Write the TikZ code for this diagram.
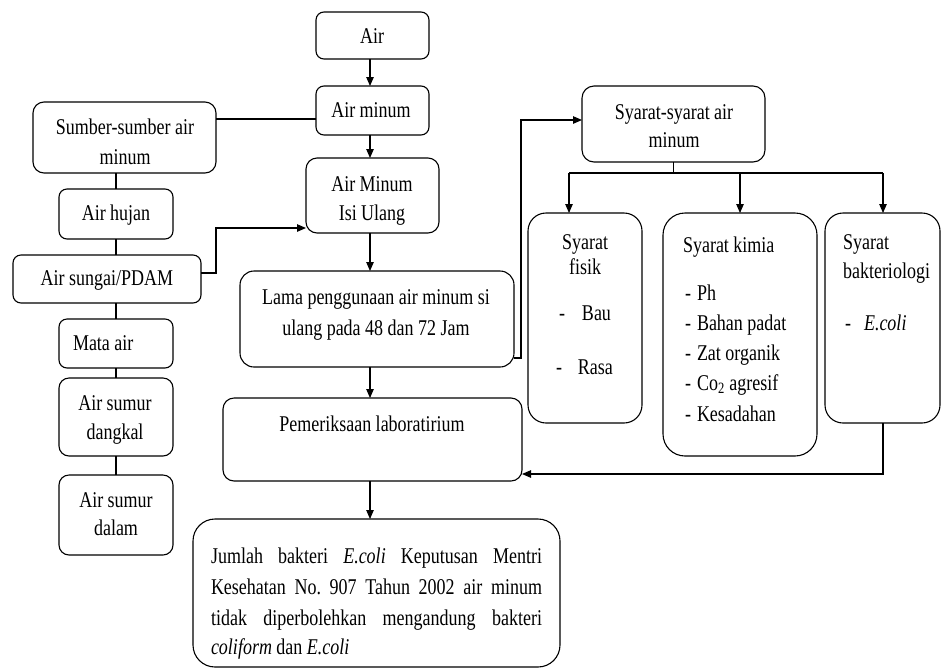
\documentclass[tikz,border=0pt]{standalone}
\usepackage{fontspec}
\setmainfont{Liberation Serif}[FakeStretch=0.8]
\usetikzlibrary{arrows.meta}
\frenchspacing
\tikzset{
  box/.style={draw=black, line width=1.1pt, rounded corners=#1, inner sep=0pt, outer sep=0pt},
  box/.default=8pt,
  txt/.style={inner sep=0pt, outer sep=0pt, font=\fontsize{22.5}{30}\selectfont},
  conn/.style={line width=1.1pt},
  arr/.style={conn, -{Triangle[length=9pt,width=7.5pt]}},
}
\begin{document}
\begin{tikzpicture}[x=1pt,y=-1pt]
\useasboundingbox (0,0) rectangle (941,670);
% boxes
\node[box=8pt, minimum width=113pt, minimum height=47pt] (air) at (372.5,35.5) {};
\node[box=8pt, minimum width=113pt, minimum height=49pt] (airminum) at (372.5,110.5) {};
\node[box=11pt, minimum width=133pt, minimum height=75pt] (isiulang) at (372.5,195.5) {};
\node[box=11pt, minimum width=183pt, minimum height=71pt] (sumber) at (124.5,137.5) {};
\node[box=8pt, minimum width=114pt, minimum height=50pt] (hujan) at (116,214) {};
\node[box=8pt, minimum width=188pt, minimum height=48pt] (sungai) at (107,279) {};
\node[box=8pt, minimum width=114pt, minimum height=49pt] (mata) at (116,343.5) {};
\node[box=10pt, minimum width=114pt, minimum height=78pt] (dangkal) at (116,417) {};
\node[box=10pt, minimum width=114pt, minimum height=80pt] (dalam) at (116,515) {};
\node[box=14pt, minimum width=274pt, minimum height=96pt] (lama) at (377,319) {};
\node[box=11pt, minimum width=299pt, minimum height=83pt] (pemeriksaan) at (372.5,439.5) {};
\node[box=22pt, minimum width=367pt, minimum height=148pt] (jumlah) at (376.5,593) {};
\node[box=12pt, minimum width=183pt, minimum height=76pt] (syarat) at (673.5,124) {};
\node[box=18pt, minimum width=114pt, minimum height=210pt] (fisik) at (585,318) {};
\node[box=22pt, minimum width=154pt, minimum height=243pt] (kimia) at (740,334.5) {};
\node[box=18pt, minimum width=115pt, minimum height=210pt] (bakteri) at (882.5,318) {};
% texts
\node[txt, anchor=base] (tair) at (372,43.5) {Air};
\node[txt, anchor=base] (tairminum) at (371,117.5) {Air minum};
\node[txt, anchor=base] (tisi1) at (372,191.5) {Air Minum};
\node[txt, anchor=base] (tisi2) at (372,220.5) {Isi Ulang};
\node[txt, anchor=base] (tsumber1) at (125,134.5) {Sumber-sumber air};
\node[txt, anchor=base] (tsumber2) at (125,164.5) {minum};
\node[txt, anchor=base] (thujan) at (116,220.5) {Air hujan};
\node[txt, anchor=base] (tsungai) at (107,285.5) {Air sungai/PDAM};
\node[txt, anchor=base west] (tmata) at (73,350.5) {Mata air};
\node[txt, anchor=base] (tdangkal1) at (115,410.5) {Air sumur};
\node[txt, anchor=base] (tdangkal2) at (115,439.5) {dangkal};
\node[txt, anchor=base] (tdalam1) at (116,507.5) {Air sumur};
\node[txt, anchor=base] (tdalam2) at (116,535.5) {dalam};
\node[txt, anchor=base] (tlama1) at (376,304.5) {Lama penggunaan air minum si};
\node[txt, anchor=base] (tlama2) at (376,335.5) {ulang pada 48 dan 72 Jam};
\node[txt, anchor=base] (tpem) at (372,431.5) {Pemeriksaan laboratirium};
\node[txt, anchor=base] (tsyarat1) at (674,119.5) {Syarat-syarat air};
\node[txt, anchor=base] (tsyarat2) at (674,147.5) {minum};
\node[txt, anchor=base] (tfisik1) at (585,249.5) {Syarat};
\node[txt, anchor=base] (tfisik2) at (585,274.5) {fisik};
\node[txt, anchor=base west] (tbau) at (559,320.5) {-\hspace{17pt}Bau};
\node[txt, anchor=base west] (trasa) at (556,374.5) {-\hspace{16pt}Rasa};
\node[txt, anchor=base west] (tkimia) at (683,252.5) {Syarat kimia};
\node[txt, anchor=base west] (tk1) at (685,300.5) {-\hspace{6pt}Ph};
\node[txt, anchor=base west] (tk2) at (685,330.5) {-\hspace{6pt}Bahan padat};
\node[txt, anchor=base west] (tk3) at (685,360.5) {-\hspace{6pt}Zat organik};
\node[txt, anchor=base west] (tk4) at (685,390.5) {-\hspace{6pt}Co\textsubscript{2} agresif};
\node[txt, anchor=base west] (tk5) at (685,421.5) {-\hspace{6pt}Kesadahan};
\node[txt, anchor=base west] (tbak1) at (843,249.5) {Syarat};
\node[txt, anchor=base west] (tbak2) at (843,278.5) {bakteriologi};
\node[txt, anchor=base west] (tbak3) at (845,330.5) {-\hspace{13pt}\textit{E.coli}};
\node[txt, anchor=base west] (tj1) at (211,563.5) {\makebox[331pt][s]{Jumlah bakteri \textit{E.coli} Keputusan Mentri}};
\node[txt, anchor=base west] (tj2) at (211,594.5) {\makebox[331pt][s]{Kesehatan No. 907 Tahun 2002 air minum}};
\node[txt, anchor=base west] (tj3) at (211,625.5) {\makebox[331pt][s]{tidak diperbolehkan mengandung bakteri}};
\node[txt, anchor=base west] (tj4) at (211,654.5) {\textit{coliform} dan \textit{E.coli}};
% helper coordinates
\coordinate (cx) at (370,0);
\coordinate (j1) at (216,119);
\coordinate (k1) at (216,273);
\coordinate (k2) at (216,228);
\coordinate (m1) at (521,358);
\coordinate (m2) at (521,120);
\coordinate (fa) at (569,173);
\coordinate (ba) at (883,173);
\coordinate (n1) at (883,474);
% connectors
\draw[arr] (air.south -| cx) -- (airminum.north -| cx);
\draw[arr] (airminum.south -| cx) -- (isiulang.north -| cx);
\draw[conn] (airminum.west |- j1) -- (sumber.east |- j1);
\draw[conn] (hujan.north |- sumber.south) -- (hujan.north);
\draw[conn] (hujan.south) -- (hujan.south |- sungai.north);
\draw[conn] (mata.north |- sungai.south) -- (mata.north);
\draw[conn] (mata.south) -- (dangkal.north);
\draw[conn] (dangkal.south) -- (dalam.north);
\draw[arr] (sungai.east |- k1) -- (k1) -- (k2) -- (isiulang.west |- k2);
\draw[arr] (isiulang.south -| cx) -- (lama.north -| cx);
\draw[arr] (lama.south -| cx) -- (pemeriksaan.north -| cx);
\draw[arr] (pemeriksaan.south -| cx) -- (jumlah.north -| cx);
\draw[arr] (lama.east |- m1) -- (m1) -- (m2) -- (syarat.west |- m2);
\draw[conn] (syarat.south) -- (syarat.south |- fa);
\draw[conn] (fa) -- (ba);
\draw[arr] (fa) -- (fisik.north -| fa);
\draw[arr] (kimia.north |- fa) -- (kimia.north);
\draw[arr] (ba) -- (bakteri.north -| ba);
\draw[arr] (bakteri.south -| n1) -- (n1) -- (pemeriksaan.east |- n1);
\end{tikzpicture}
\end{document}
